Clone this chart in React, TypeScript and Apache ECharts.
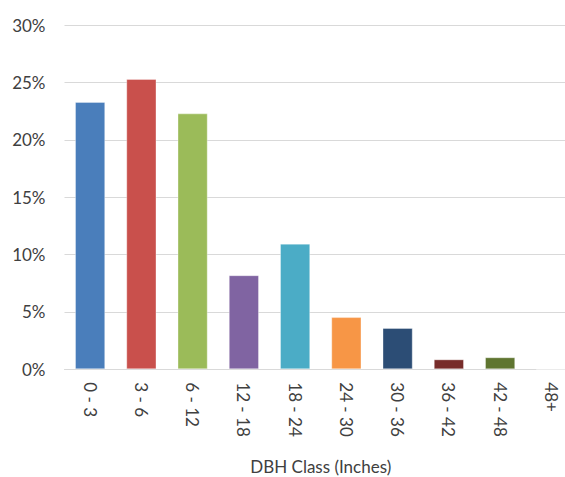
import React, { useEffect, useRef } from "react";
import * as echarts from "echarts";

const categories = ["0 - 3", "3 - 6", "6 - 12", "12 - 18", "18 - 24", "24 - 30", "30 - 36", "36 - 42", "42 - 48", "48+"];
const values = [23.3, 25.3, 22.3, 8.2, 10.95, 4.55, 3.6, 0.87, 1.05, 0];
const colors = ["#4A7EBB", "#C9504C", "#9BBB59", "#8064A2", "#4BACC6", "#F79646", "#2C4D75", "#772C2A", "#5F7530", "#4A7EBB"];
const yTicks = [0, 5, 10, 15, 20, 25, 30];

export default function App() {
  const ref = useRef<HTMLDivElement>(null);
  useEffect(() => {
    if (!ref.current) return;
    const chart = echarts.init(ref.current, null, { renderer: "svg" });
    chart.setOption({
      animation: false,
      backgroundColor: "#ffffff",
      textStyle: { fontFamily: "Lato" },
      grid: { left: 64.5, right: -12, top: 25, bottom: 107.7, containLabel: false, outerBoundsMode: "none" },
      xAxis: {
        type: "category",
        data: categories,
        name: "DBH Class (Inches)",
        nameLocation: "middle",
        nameGap: 89,
        nameTextStyle: { fontSize: 17, color: "#404040", fontFamily: "Lato" },
        axisLine: { show: true, lineStyle: { color: "#d9d9d9", width: 1 } },
        axisTick: { show: false },
        axisLabel: { rotate: -90, margin: 13, fontSize: 17, color: "#404040", fontFamily: "Lato", interval: 0 },
      },
      yAxis: {
        type: "value",
        min: yTicks[0],
        max: yTicks[yTicks.length - 1],
        interval: 5,
        axisLine: { show: false },
        axisTick: { show: false },
        splitLine: { lineStyle: { color: "#d9d9d9", width: 1 } },
        axisLabel: { formatter: "{value}%", margin: 19, fontSize: 17, color: "#404040", fontFamily: "Lato" },
      },
      series: [
        {
          type: "bar",
          data: values.map((v, i) => ({ value: v, itemStyle: { color: colors[i] } })),
          barWidth: "59%",
          itemStyle: { borderColor: "rgba(255,255,255,0.35)", borderWidth: 1 },
        },
      ],
    });
    return () => chart.dispose();
  }, []);
  return (
    <div
      ref={ref}
      style={{ position: "fixed", left: 0, top: 0, width: 565, height: 477, background: "#fff" }}
    />
  );
}
